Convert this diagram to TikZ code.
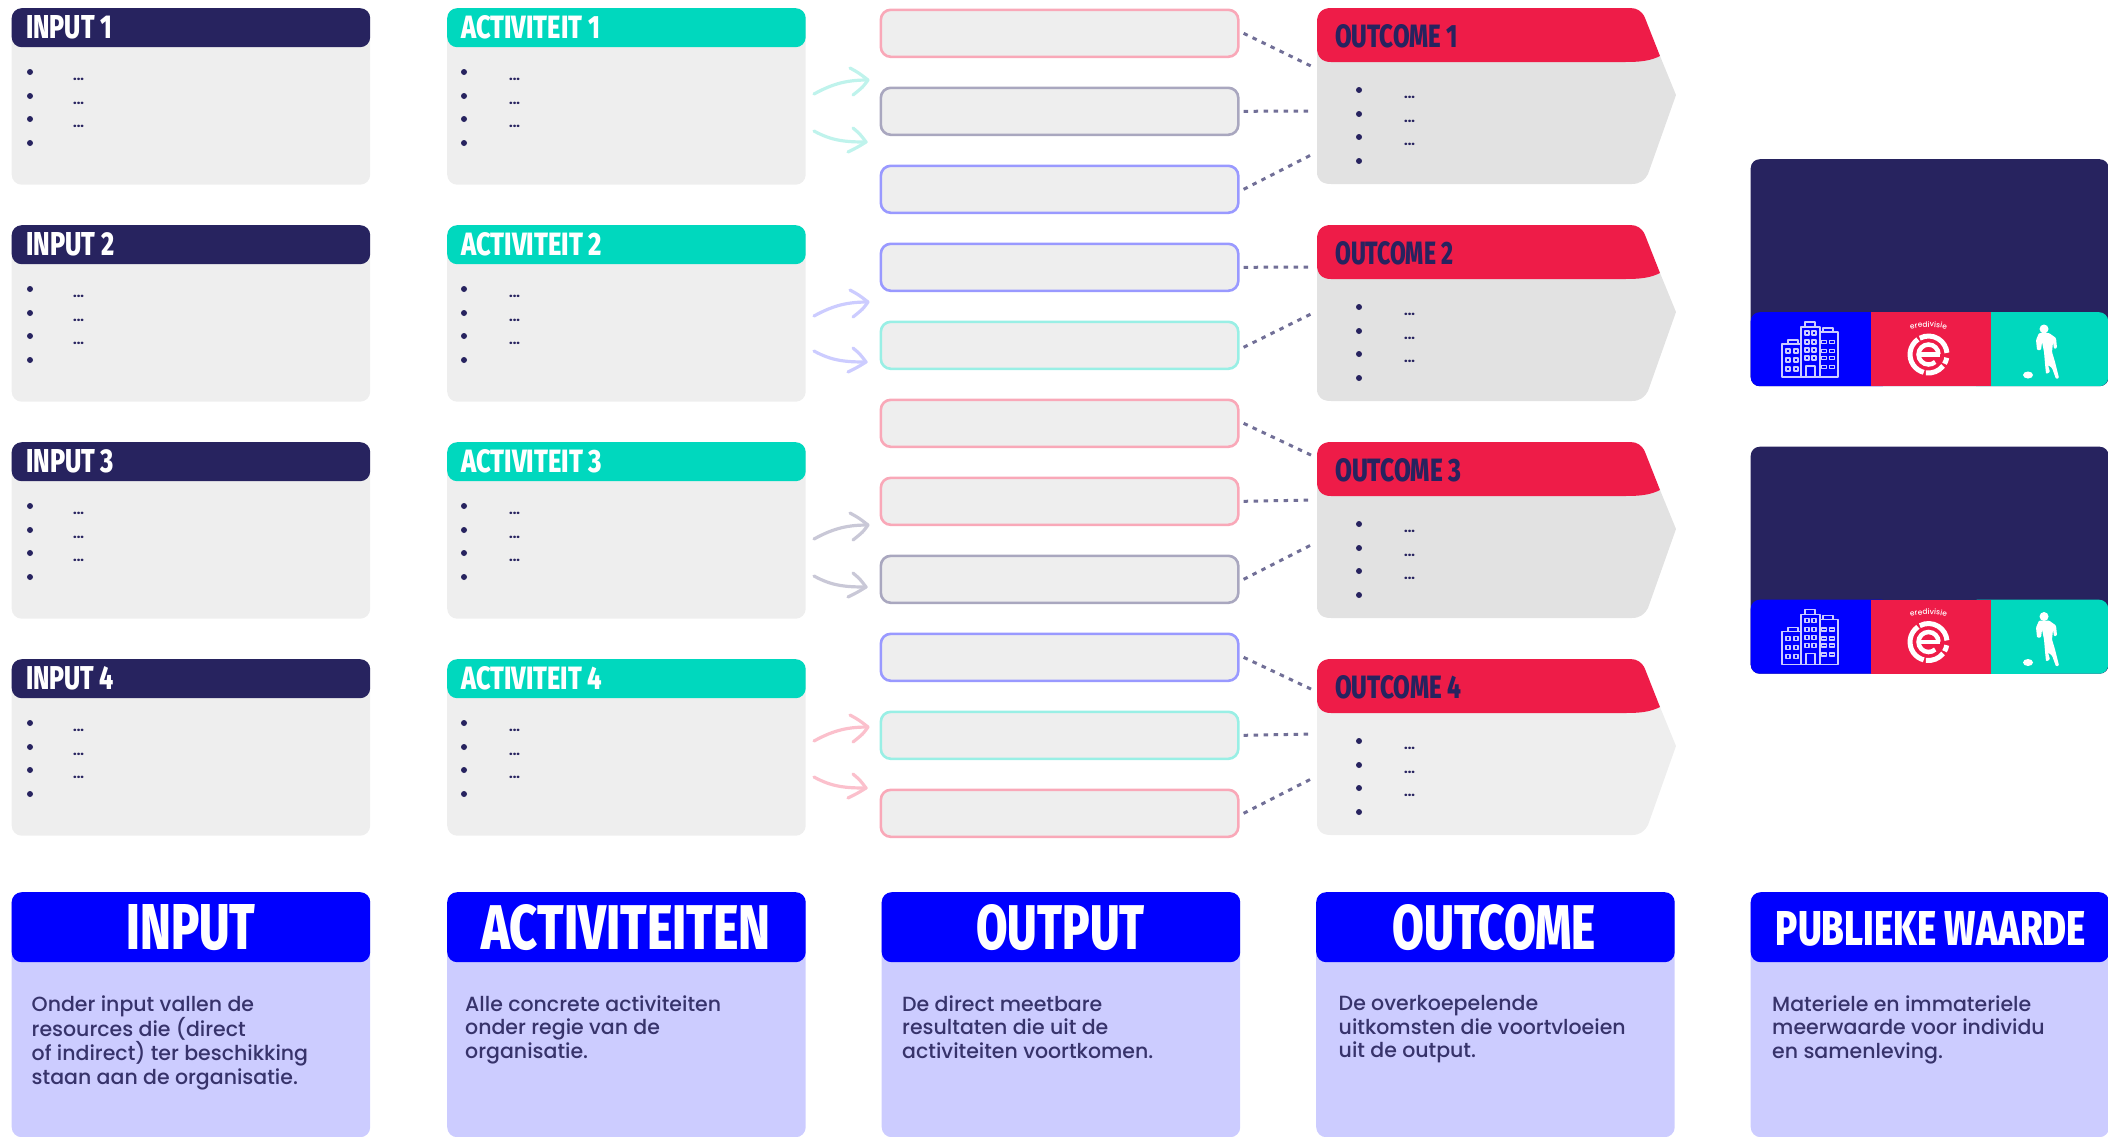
\documentclass[tikz,border=0pt]{standalone}
\usepackage{fontspec}
\usepackage{graphicx}
\setmainfont{Poppins}[UprightFont=* Medium]
\newfontfamily\headfont{Fira Sans}[UprightFont=* ExtraBold]
\usetikzlibrary{calc,decorations.text}
\definecolor{navy}{HTML}{27235F}
\definecolor{teal}{HTML}{00D8BE}
\definecolor{crimson}{HTML}{EE1C48}
\definecolor{royal}{HTML}{0000FF}
\definecolor{lav}{HTML}{CCCCFF}
\definecolor{card}{HTML}{EEEEEE}
\definecolor{cardb}{HTML}{E2E2E2}
\definecolor{lpink}{HTML}{F9A8B8}
\definecolor{lnavy}{HTML}{A9A7BF}
\definecolor{lblue}{HTML}{9999FF}
\definecolor{lteal}{HTML}{99EFE5}
\definecolor{ateal}{HTML}{BFF3EC}
\definecolor{alav}{HTML}{CCCCFF}
\definecolor{agrey}{HTML}{C9C8D7}
\definecolor{apink}{HTML}{FBC0CC}
\definecolor{dots}{HTML}{716F97}
\definecolor{bodytxt}{HTML}{37336B}
\newcommand{\fitlabel}[3]{\resizebox{#1pt}{#2pt}{\headfont #3}}
\tikzset{
  cardbody/.style={fill=card,rounded corners=10pt,inner sep=0,anchor=north west,minimum width=358.5pt,minimum height=176.5pt},
  cardhead/.style={rounded corners=10pt,inner sep=0,anchor=north west,minimum width=358.5pt,minimum height=39pt},
  outbox/.style={fill=card,draw=#1,line width=2.6pt,rounded corners=10pt,inner sep=0,anchor=north west,minimum width=357.5pt,minimum height=47pt},
  dotline/.style={draw=dots,line width=3pt,dash pattern=on 4.5pt off 5.5pt},
  arrowline/.style={draw=#1,line width=3.2pt,line cap=round,line join=round},
  labeltxt/.style={inner sep=0,anchor=west},
  ellip/.style={inner sep=0,anchor=base west,text=navy,font=\fontsize{12}{12}\selectfont\bfseries},
  footbody/.style={fill=lav,rounded corners=10pt,inner sep=0,anchor=north west,minimum width=358.5pt,minimum height=245pt},
  foothead/.style={fill=royal,rounded corners=10pt,inner sep=0,anchor=north west,minimum width=358.5pt,minimum height=70pt},
  foottxt/.style={inner sep=0,anchor=north west,align=left,text=bodytxt,font=\fontsize{20.5}{23.8}\selectfont},
  footlabel/.style={inner sep=0,text=white},
  pvcell/.style={inner sep=0,anchor=north west,minimum height=74pt},
}
\begin{document}
\begin{tikzpicture}[x=1pt,y=-1pt]
\useasboundingbox (0,0) rectangle (2108,1136);
% ---- cards of the four rows
\foreach \n/\ty/\wi/\wa/\wo/\bg in {1/8/86/139/123/cardb,2/225/88/141/118/cardb,3/442/88/141/126/cardb,4/659/88/141/126/card}{
  \begin{scope}[shift={(0,\ty)}]
    % input
    \node[cardbody] (ib\n) at (11.5,0) {};
    \node[cardhead,fill=navy] (ih\n) at (11.5,0) {};
    \node[labeltxt,text=white] (il\n) at (26,19.5) {\fitlabel{\wi}{23}{INPUT \n}};
    % activity
    \node[cardbody] (ab\n) at (447,0) {};
    \node[cardhead,fill=teal] (ah\n) at (447,0) {};
    \node[labeltxt,text=white] (al\n) at (461,19.5) {\fitlabel{\wa}{23}{ACTIVITEIT \n}};
    % outcome
    \node[inner sep=0,anchor=north west,minimum width=359pt,minimum height=176pt] (oc\n) at (1317,0) {};
    \fill[\bg] (1317,30) -- (1645,30) -- (1660,48) -- (1676,87) -- (1648,166) .. controls (1645,172) and (1640,176) .. (1632,176)
      -- (1331,176) .. controls (1322,176) and (1317,172) .. (1317,164) -- cycle;
    \fill[crimson] (1317,14) .. controls (1317,5) and (1322,0) .. (1331,0) -- (1630,0)
      .. controls (1637,0) and (1642,3) .. (1645,10) -- (1660,48) .. controls (1650,53) and (1640,54) .. (1625,54)
      -- (1331,54) .. controls (1322,54) and (1317,49) .. (1317,40) -- cycle;
    \node[labeltxt,text=navy] (ol\n) at (1335,28.5) {\fitlabel{\wo}{23}{OUTCOME \n}};
    % bullets and their dots
    \foreach \bx/\tx/\oy/\c in {30/79/0/i,464/515/0/a,1359/1410/18/o}{
      \foreach \m/\by in {1/64,2/88,3/111,4/135}{
        \fill[navy] (\bx,\by+\oy) circle (3pt);
      }
      \foreach \m/\by in {1/72,2/96,3/119}{
        \node[ellip] (e\c\n\m) at (\tx-6,\by+\oy) {...};
      }
    }
  \end{scope}
}
% ---- output boxes
\foreach \k/\ty/\col in {1/9/lpink,2/87/lnavy,3/165/lblue,4/243/lblue,5/321/lteal,6/399/lpink,7/477/lpink,8/555/lnavy,9/633/lblue,10/711/lteal,11/789/lpink}{
  \node[outbox=\col] (ob\k) at (879.5,\ty-0.5) {};
}
% ---- dotted connectors
\foreach \k/\c/\e/\s in {1/1/59/0,2/1/103/0,3/1/146/0,4/2/42/0,5/2/88/2,6/3/14/0,7/3/58/0,8/3/102/0,9/4/31/0,10/4/75/0,11/4/119/0}{
  \draw[dotline] ($(ob\k.east)+(4,\s)$) -- ($(oc\c.north west)+(-4,\e)$);
}
% ---- curved arrows
\foreach \n/\tu/\tl/\col in {1/80/142/ateal,2/302/362/alav,3/525/587/agrey,4/727/788/apink}{
  \coordinate (au\n) at (868,\tu);
  \coordinate (al\n) at (866,\tl);
  \draw[arrowline=\col] ($(au\n)+(-54,14)$) .. controls ($(au\n)+(-34,3)$) and ($(au\n)+(-20,0)$) .. (au\n);
  \draw[arrowline=\col] ($(au\n)+(-18,-12)$) .. controls ($(au\n)+(-9,-7)$) .. (au\n) .. controls ($(au\n)+(-5,7)$) .. ($(au\n)+(-15,15)$);
  \draw[arrowline=\col] ($(al\n)+(-52,-11)$) .. controls ($(al\n)+(-34,-1)$) and ($(al\n)+(-20,0)$) .. (al\n);
  \draw[arrowline=\col] ($(al\n)+(-13,-14)$) .. controls ($(al\n)+(-6,-8)$) .. (al\n) .. controls ($(al\n)+(-8,5)$) .. ($(al\n)+(-18,10)$);
}
% ---- public value panels
\foreach \i/\py in {1/0,2/287.5}{
  \begin{scope}[shift={(0,\py)}]
    \node[fill=navy,rounded corners=9pt,inner sep=0,anchor=north west,minimum width=358pt,minimum height=227pt] (pv\i) at (1750.5,159) {};
    \node[pvcell,fill=royal,rounded corners=9pt,minimum width=140pt] (pva\i) at (1750.5,312) {};
    \node[pvcell,fill=teal,rounded corners=9pt,minimum width=140pt] (pvc\i) at (1968,312) {};
    \node[pvcell,fill=crimson,minimum width=120pt] (pvb\i) at (1870.5,312) {};
    \fill[teal] (1990.5,312) rectangle (2040,386);
    % building
    \begin{scope}[draw=lav,line width=1.3pt,line join=round]
      \draw (1782,377) rectangle (1801,344);
      \draw (1788,344) rectangle (1798,340);
      \draw (1801,377) rectangle (1820,327);
      \draw (1805,327) rectangle (1815,322);
      \draw (1820,377) rectangle (1838,332);
      \draw (1823,332) rectangle (1833,328);
      \draw (1806,377) -- (1806,366) -- (1815,366) -- (1815,377);
      \foreach \wx in {1788,1796}{\foreach \wy in {351,360,369}{
        \draw (\wx-2,\wy-2) rectangle (\wx+2,\wy+2);}}
      \foreach \wx in {1807,1814}{\foreach \wy in {333,342,350,358}{
        \draw (\wx-2,\wy-2) rectangle (\wx+2,\wy+2);}}
      \foreach \wx in {1824,1832}{\foreach \wy in {342,351,358,367}{
        \draw (\wx-2.5,\wy-1.5) rectangle (\wx+2.5,\wy+1.5);}}
    \end{scope}
    % player
    \fill[white] (2044,329) circle (4.5pt);
    \fill[white,rounded corners=1pt] (2039,333) -- (2049,333) -- (2056,338) -- (2057,348) -- (2054,349) -- (2053,342)
      -- (2052,352) -- (2055,362) -- (2057,370) -- (2059,378) -- (2056,379) -- (2052,368) -- (2048,365) -- (2050,372)
      -- (2046,374) -- (2045,364) -- (2044,352) -- (2042,342) -- (2041,350) -- (2037,350) -- (2036,340) -- cycle;
    \fill[white] (2028,375) ellipse (5pt and 3.5pt);
    % league logo
    \begin{scope}[shift={(1928.5,354.5)},x=1pt,y=1pt,draw=white,line cap=butt]
      \draw[line width=5pt] (118:18.5pt) arc[start angle=118,end angle=5,radius=18.5pt];
      \draw[line width=5pt] (125:18.5pt) arc[start angle=125,end angle=255,radius=18.5pt];
      \draw[line width=5pt] (262:18.5pt) arc[start angle=262,end angle=322,radius=18.5pt];
      \draw[line width=5pt] (330:18.5pt) arc[start angle=330,end angle=350,radius=18.5pt];
      \draw[line width=4.5pt] (0:10pt) arc[start angle=0,end angle=312,radius=10pt];
      \draw[line width=4.5pt] (-10,0) -- (11,0);
      \path[decorate,decoration={text along path,text align=center,
        text={|\color{white}\fontsize{7.5}{8}\selectfont|eredivisie}}]
        (-23,23) .. controls (-10,29) and (10,29) .. (23,23);
    \end{scope}
  \end{scope}
}
% ---- bottom columns
\foreach \c/\x/\tx in {1/11.5/31.5,2/447/465,3/881.5/902,4/1316/1338.5,5/1750.5/1772}{
  \node[footbody] (fb\c) at (\x,892) {};
  \node[foothead] (fh\c) at (\x,892) {};
}
\node[footlabel] (fl1) at (191,927.5) {\fitlabel{129}{45}{INPUT}};
\node[footlabel] (fl2) at (626,927.5) {\fitlabel{289}{45}{ACTIVITEITEN}};
\node[footlabel] (fl3) at (1060.5,927.5) {\fitlabel{168}{45}{OUTPUT}};
\node[footlabel] (fl4) at (1494.5,927.5) {\fitlabel{203}{45}{OUTCOME}};
\node[footlabel] (fl5) at (1931,929) {\fitlabel{310}{34}{PUBLIEKE WAARDE}};
\node[foottxt] (ft1) at (31.5,995) {Onder input vallen de\\resources die (direct\\of indirect) ter beschikking\\staan aan de organisatie.};
\node[foottxt] (ft2) at (465,995) {Alle concrete activiteiten\\onder regie van de\\organisatie.};
\node[foottxt] (ft3) at (902,995) {De direct meetbare\\resultaten die uit de\\activiteiten voortkomen.};
\node[foottxt] (ft4) at (1338.5,995) {De overkoepelende\\uitkomsten die voortvloeien\\uit de output.};
\node[foottxt] (ft5) at (1772,995) {Materiele en immateriele\\meerwaarde voor individu\\en samenleving.};
\end{tikzpicture}
\end{document}
